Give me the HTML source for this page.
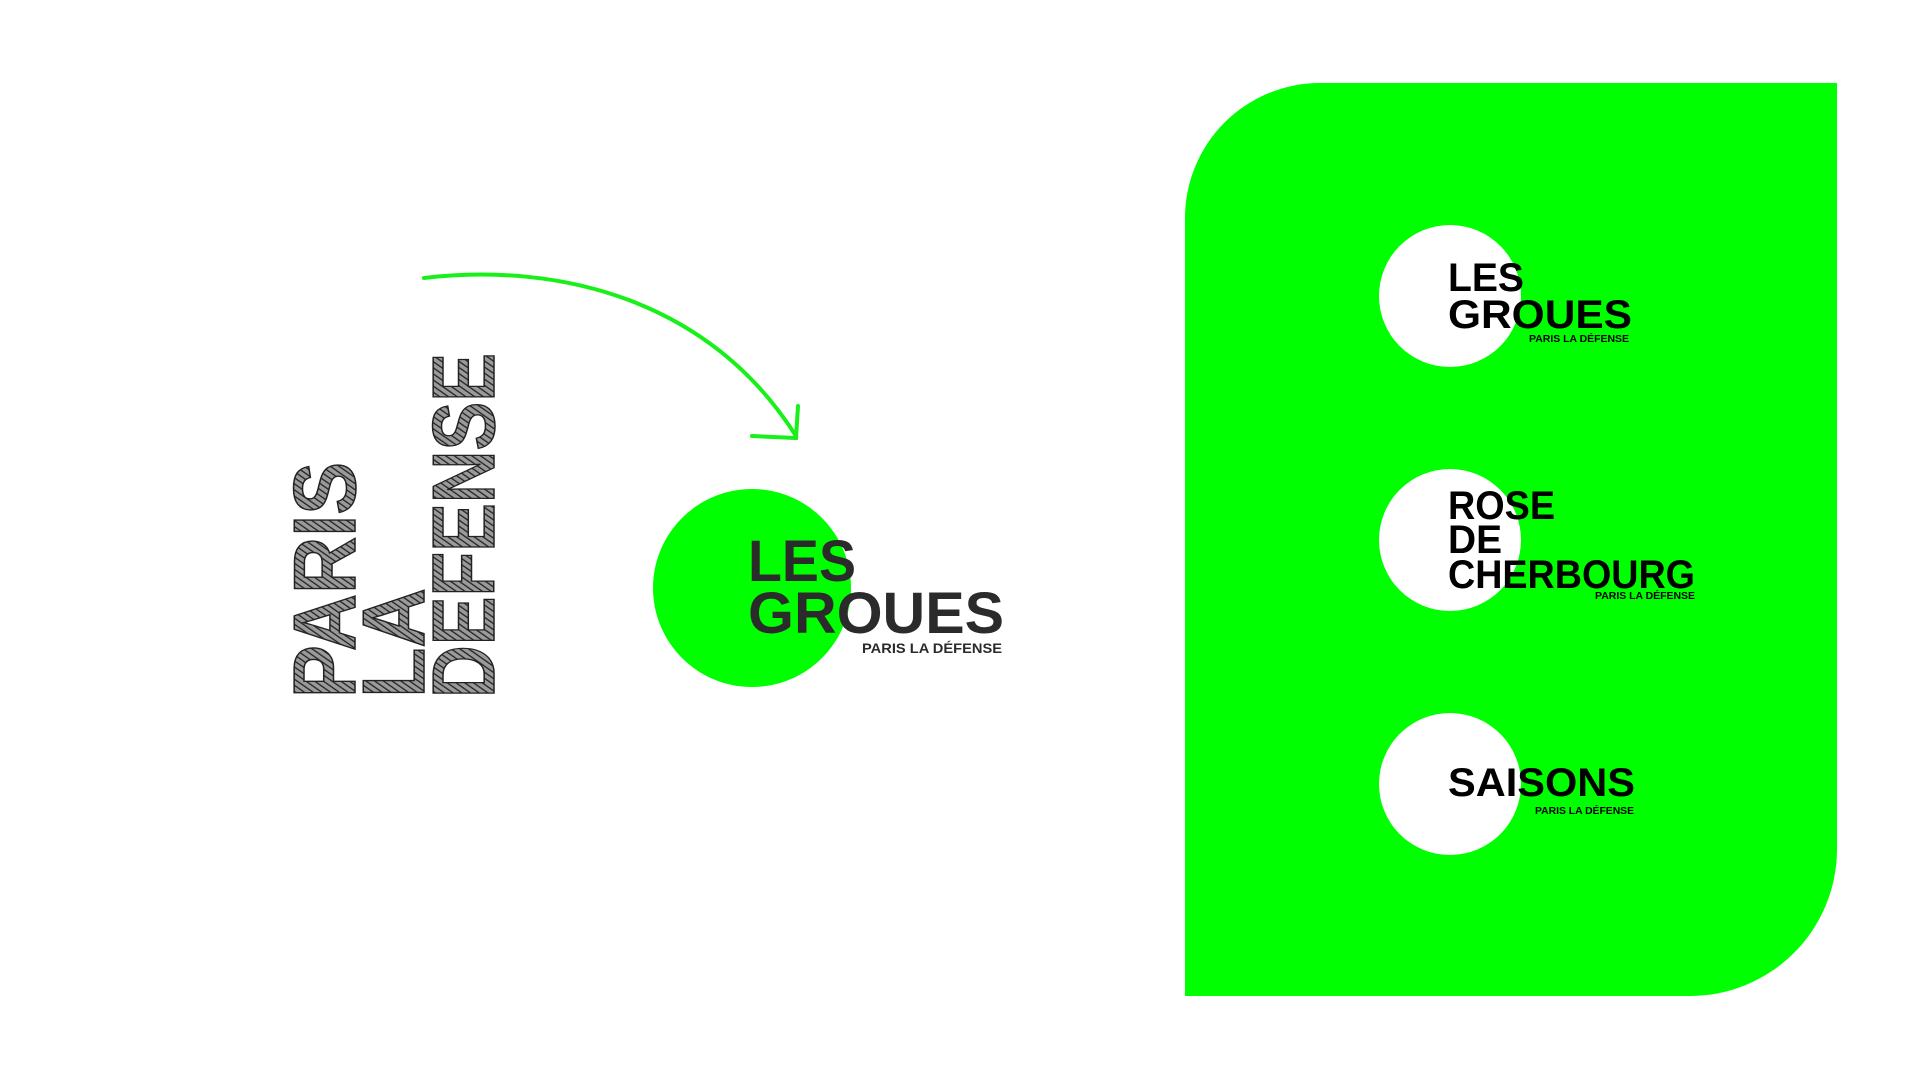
<!DOCTYPE html>
<html><head><meta charset="utf-8"><style>
html,body{margin:0;padding:0;background:#fff;width:1920px;height:1080px;overflow:hidden}
svg{display:block}
text{font-family:"Liberation Sans",sans-serif;font-weight:bold}
</style></head><body>
<svg width="1920" height="1080" viewBox="0 0 1920 1080" xmlns="http://www.w3.org/2000/svg">
<defs>
<pattern id="hatch" width="5" height="5" patternUnits="userSpaceOnUse" patternTransform="rotate(35)">
<rect width="5" height="5" fill="#9a9a9a"/>
<line x1="0" y1="0" x2="0" y2="5" stroke="#222" stroke-width="2.6"/>
</pattern>
</defs>
<!-- vertical sketch text -->
<g fill="url(#hatch)" stroke="#222" stroke-width="1.5" font-size="88">
<text transform="translate(355,698) rotate(-90)" textLength="236" lengthAdjust="spacingAndGlyphs">PARIS</text>
<text transform="translate(424,698) rotate(-90)" textLength="110" lengthAdjust="spacingAndGlyphs">LA</text>
<text transform="translate(494,698) rotate(-90)" textLength="345" lengthAdjust="spacingAndGlyphs">DEFENSE</text>
</g>
<!-- arrow -->
<g fill="none" stroke="#19f019" stroke-width="4" stroke-linecap="round">
<path d="M424 278 C 560 262, 710 300, 796 436"/>
<path d="M798 406 L796 438 L752 436"/>
</g>
<!-- left logo -->
<circle cx="752" cy="588" r="99" fill="#00ff00"/>
<text x="748" y="581" font-size="58" fill="#2b2b2b" textLength="108" lengthAdjust="spacingAndGlyphs">LES</text>
<text x="748" y="633" font-size="58" fill="#2b2b2b" textLength="256" lengthAdjust="spacingAndGlyphs">GROUES</text>
<text x="862" y="653" font-size="14" fill="#2b2b2b" textLength="140" lengthAdjust="spacingAndGlyphs">PARIS LA DÉFENSE</text>
<!-- green panel -->
<path d="M1320 83 L1837 83 L1837 850 A147 147 0 0 1 1690 996 L1185 996 L1185 218 A135 135 0 0 1 1320 83 Z" fill="#00ff00"/>
<g fill="#fff">
<circle cx="1450" cy="296" r="71"/>
<circle cx="1450" cy="540" r="71"/>
<circle cx="1450" cy="784" r="71"/>
</g>
<g fill="#000">
<text x="1448" y="291" font-size="40" textLength="76" lengthAdjust="spacingAndGlyphs">LES</text>
<text x="1448" y="328" font-size="40" textLength="184" lengthAdjust="spacingAndGlyphs">GROUES</text>
<text x="1529" y="342" font-size="10" textLength="100" lengthAdjust="spacingAndGlyphs">PARIS LA DÉFENSE</text>
<text x="1448" y="519" font-size="40" textLength="107" lengthAdjust="spacingAndGlyphs">ROSE</text>
<text x="1448" y="553" font-size="40" textLength="54" lengthAdjust="spacingAndGlyphs">DE</text>
<text x="1448" y="588" font-size="40" textLength="247" lengthAdjust="spacingAndGlyphs">CHERBOURG</text>
<text x="1595" y="599" font-size="10" textLength="100" lengthAdjust="spacingAndGlyphs">PARIS LA DÉFENSE</text>
<text x="1448" y="796" font-size="40" textLength="187" lengthAdjust="spacingAndGlyphs">SAISONS</text>
<text x="1535" y="814" font-size="10" textLength="99" lengthAdjust="spacingAndGlyphs">PARIS LA DÉFENSE</text>
</g>
</svg>
</body></html>
